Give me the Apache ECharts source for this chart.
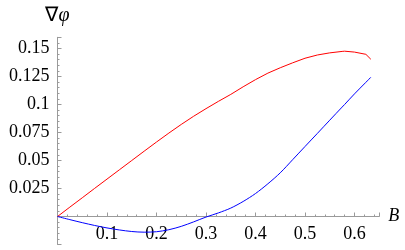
<!DOCTYPE html>
<html><head><meta charset="utf-8">
<script src="https://cdn.jsdelivr.net/npm/echarts@6/dist/echarts.min.js"></script>
<style>html,body{margin:0;padding:0;background:#fff}#c{width:405px;height:250px}</style>
</head><body><div id="c"></div>
<script>
const B = [0, 0.025, 0.05, 0.075, 0.1, 0.125, 0.15, 0.175, 0.2, 0.225, 0.25, 0.275, 0.3, 0.325, 0.35, 0.375, 0.4, 0.425, 0.45, 0.475, 0.5, 0.525, 0.55, 0.575, 0.58, 0.6, 0.623, 0.633];
const redValues = [0, 0.0084, 0.0167, 0.0251, 0.0334, 0.0417, 0.05, 0.0583, 0.0665, 0.0745, 0.0822, 0.0895, 0.0963, 0.1028, 0.109, 0.1158, 0.1222, 0.128, 0.1328, 0.1372, 0.1413, 0.1442, 0.1461, 0.1474, 0.1476, 0.1468, 0.1448, 0.1404];
const blueValues = [0, -0.0028, -0.0055, -0.008, -0.0102, -0.012, -0.0134, -0.014, -0.0136, -0.0118, -0.0088, -0.0048, -0.0005, 0.0032, 0.0075, 0.0134, 0.0205, 0.0292, 0.039, 0.0507, 0.0625, 0.0742, 0.086, 0.0977, 0.1, 0.1095, 0.1198, 0.1243];
const xTickLabels = [0.1, 0.2, 0.3, 0.4, 0.5, 0.6];
const yTickLabels = [0.025, 0.05, 0.075, 0.1, 0.125, 0.15];

const yMin = -0.025, yMax = 0.16;
const gridH = 207.2;
const zeroOffset = -(0 - yMin) / (yMax - yMin) * gridH;

const chart = echarts.init(document.getElementById('c'));
const axisColor = '#9a9a9a';
const serif = "'Liberation Serif', 'Times New Roman', serif";
chart.setOption({
  animation: false,
  textStyle: {fontFamily: serif},
  grid: {left: 57.5, top: 37.3, width: 321.75, height: gridH, outerBoundsMode: 'none', containLabel: false},
  xAxis: {
    type: 'value', min: 0, max: 0.65, interval: 0.1,
    position: 'bottom', offset: zeroOffset,
    name: 'B', nameLocation: 'end', nameGap: 9,
    nameTextStyle: {color: '#000', fontFamily: serif, fontSize: 18, fontStyle: 'italic', verticalAlign: 'middle'},
    axisLine: {show: true, onZero: false, lineStyle: {color: axisColor, width: 1}},
    axisTick: {show: true, inside: true, length: 4, lineStyle: {color: axisColor}},
    minorTick: {show: true, splitNumber: 5, length: 2, lineStyle: {color: axisColor}},
    axisLabel: {customValues: xTickLabels, margin: 9, color: '#000', fontFamily: serif, fontSize: 18, formatter: v => String(v)},
    splitLine: {show: false}
  },
  yAxis: {
    type: 'value', min: yMin, max: yMax, interval: 0.025,
    name: '∇{i|φ}', nameLocation: 'end', nameGap: 12,
    nameTextStyle: {color: '#000', fontFamily: serif, fontSize: 20, align: 'center',
      rich: {i: {fontStyle: 'italic', fontFamily: serif, fontSize: 20, color: '#000'}}},
    axisLine: {show: true, onZero: true, lineStyle: {color: axisColor, width: 1}},
    axisTick: {show: true, inside: true, length: 4, lineStyle: {color: axisColor}},
    minorTick: {show: true, splitNumber: 5, length: 2, lineStyle: {color: axisColor}},
    axisLabel: {customValues: yTickLabels, margin: 8, color: '#000', fontFamily: serif, fontSize: 18, formatter: v => String(v)},
    splitLine: {show: false}
  },
  series: [
    {type: 'line', data: B.map((b, i) => [b, redValues[i]]), showSymbol: false, symbol: 'none',
     lineStyle: {color: '#ff0000', width: 1}, z: 3},
    {type: 'line', data: B.map((b, i) => [b, blueValues[i]]), showSymbol: false, symbol: 'none', smooth: 0.3,
     lineStyle: {color: '#0000ff', width: 1}, z: 3}
  ]
});
</script></body></html>
